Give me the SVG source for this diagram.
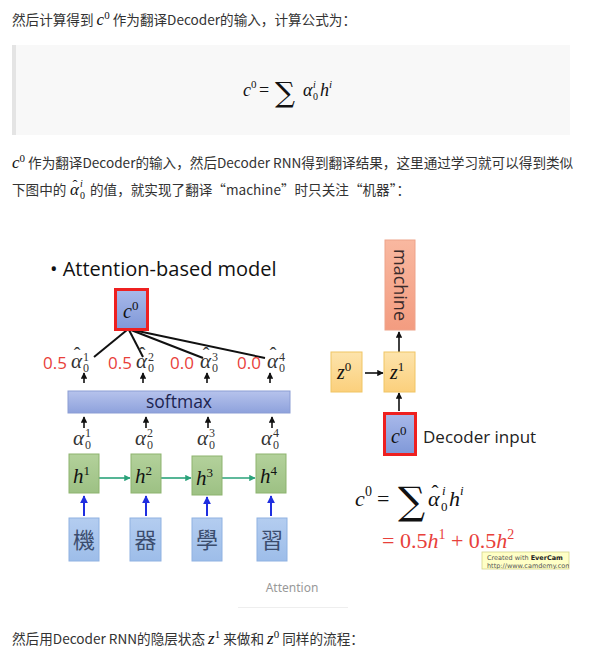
<svg xmlns="http://www.w3.org/2000/svg" width="594" height="668" viewBox="0 0 594 668">
<style>
.cn{font-family:"Noto Sans CJK SC","Noto Sans",sans-serif;font-size:13.6px;fill:#333}
.m{font-family:"Liberation Serif","DejaVu Serif",serif;font-style:italic;fill:#111}
.up{font-family:"Liberation Serif","DejaVu Serif",serif;font-style:normal}
.sl{font-family:"Open Sans","Noto Sans",sans-serif;fill:#111}
.red{fill:#e8403a}
.hat{font-family:"Liberation Serif","DejaVu Serif",serif;text-anchor:middle}
.arr{stroke:#111;stroke-width:1.6;fill:none;marker-end:url(#ah)}
.barr{stroke:#1f2ee0;stroke-width:2;fill:none;marker-end:url(#bh)}
.garr{stroke:#2aa27a;stroke-width:1.6;fill:none;marker-end:url(#gh)}
.hbox{fill:url(#gg);stroke:#8db36e;stroke-width:1}
.ibox{fill:url(#bg);stroke:#8fb2e2;stroke-width:1}
.zbox{fill:url(#yg);stroke:#f0c565;stroke-width:1}
.ch{font-family:"Noto Sans CJK TC","Noto Sans CJK SC",sans-serif;font-size:22px;fill:#3b4d6e;text-anchor:middle}
.a20{font-size:21px;fill:#333}
.s12{font-size:12px;fill:#333}
</style>
<defs>
<marker id="ah" viewBox="0 0 10 10" refX="9" refY="5" markerWidth="4" markerHeight="4" orient="auto"><path d="M0,0L10,5L0,10z" fill="#111"/></marker>
<marker id="bh" viewBox="0 0 10 10" refX="9" refY="5" markerWidth="4" markerHeight="4" orient="auto"><path d="M0,0L10,5L0,10z" fill="#1f2ee0"/></marker>
<marker id="gh" viewBox="0 0 10 10" refX="9" refY="5" markerWidth="4" markerHeight="4" orient="auto"><path d="M0,0L10,5L0,10z" fill="#2aa27a"/></marker>
<linearGradient id="cg" x1="0" y1="0" x2="0" y2="1"><stop offset="0" stop-color="#a9b9ea"/><stop offset="1" stop-color="#7f98d8"/></linearGradient>
<linearGradient id="sg" x1="0" y1="0" x2="0" y2="1"><stop offset="0" stop-color="#b6c3ec"/><stop offset="1" stop-color="#8ea2dc"/></linearGradient>
<linearGradient id="gg" x1="0" y1="0" x2="0" y2="1"><stop offset="0" stop-color="#b3d19b"/><stop offset="1" stop-color="#9dc184"/></linearGradient>
<linearGradient id="bg" x1="0" y1="0" x2="0" y2="1"><stop offset="0" stop-color="#b4cdf0"/><stop offset="1" stop-color="#9dbde9"/></linearGradient>
<linearGradient id="yg" x1="0" y1="0" x2="0" y2="1"><stop offset="0" stop-color="#fde4ac"/><stop offset="1" stop-color="#fbd07c"/></linearGradient>
<linearGradient id="og" x1="0" y1="0" x2="0" y2="1"><stop offset="0" stop-color="#f9b8a0"/><stop offset="1" stop-color="#f39c80"/></linearGradient>
<clipPath id="ec"><rect x="482" y="552" width="87" height="17"/></clipPath>
</defs>
<rect width="594" height="668" fill="#fff"/>

<g id="text-top">
<text class="cn" x="12" y="25">然后计算得到 <tspan class="m" font-size="17" fill="#111">c</tspan><tspan class="up" font-size="11" dy="-6" fill="#111">0</tspan><tspan dy="6"> 作为翻译Decoder的输入，计算公式为：</tspan></text>
</g>

<g id="quote">
<rect x="12" y="45" width="558" height="90" fill="#f8f8f8"/>
<rect x="12" y="45" width="4" height="90" fill="#e4e4e4"/>
<text class="m" x="243" y="96" font-size="18">c</text>
<text class="up" x="251" y="88" font-size="11" fill="#111">0</text>
<text class="up" x="259" y="96" font-size="18" fill="#111">=</text>
<text x="275" y="102" font-family="DejaVu Serif,serif" font-size="28" fill="#111">∑</text>
<text class="m" x="303" y="96" font-size="18">α</text>
<text class="up" x="313" y="100" font-size="10" fill="#111">0</text>
<text class="m" x="313" y="88" font-size="10">i</text>
<text class="m" x="320" y="96" font-size="18">h</text>
<text class="m" x="329" y="88" font-size="11">i</text>
</g>

<g id="text-mid">
<text class="cn" x="12" y="168"><tspan class="m" font-size="17" fill="#111">c</tspan><tspan class="up" font-size="11" dy="-6" fill="#111">0</tspan><tspan dy="6"> 作为翻译Decoder的输入，然后Decoder RNN得到翻译结果，这里通过学习就可以得到类似</tspan></text>
<text class="cn" x="12" y="195">下图中的</text>
<text class="m" x="70" y="195" font-size="17">α</text>
<text class="hat" x="75" y="190" font-size="15" fill="#111">ˆ</text>
<text class="up" x="80" y="199" font-size="10" fill="#111">0</text>
<text class="m" x="80" y="187" font-size="10">i</text>
<text class="cn" x="90" y="195">的值，就实现了翻译“machine”时只关注“机器”：</text>
</g>

<g id="title">
<text class="sl" x="50" y="276" font-size="20">• Attention-based model</text>
</g>

<g id="connectors">
<line x1="127" y1="330" x2="94" y2="357" stroke="#111" stroke-width="2"/>
<line x1="129" y1="330" x2="143" y2="357" stroke="#111" stroke-width="2"/>
<line x1="131" y1="330" x2="203" y2="358" stroke="#111" stroke-width="2"/>
<line x1="133" y1="330" x2="265" y2="358" stroke="#111" stroke-width="2"/>
<line class="arr" x1="84" y1="383" x2="84" y2="373"/>
<line class="arr" x1="143" y1="383" x2="143" y2="373"/>
<line class="arr" x1="207" y1="383" x2="207" y2="373"/>
<line class="arr" x1="270" y1="383" x2="270" y2="373"/>
<line class="arr" x1="84" y1="428" x2="84" y2="417"/>
<line class="arr" x1="146" y1="428" x2="146" y2="417"/>
<line class="arr" x1="208" y1="428" x2="208" y2="417"/>
<line class="arr" x1="272" y1="428" x2="272" y2="417"/>
<line class="garr" x1="99" y1="478" x2="130" y2="478"/>
<line class="garr" x1="161" y1="478" x2="191" y2="478"/>
<line class="garr" x1="222" y1="478" x2="255" y2="478"/>
<line class="barr" x1="84" y1="516" x2="84" y2="496"/>
<line class="barr" x1="146" y1="516" x2="146" y2="496"/>
<line class="barr" x1="207" y1="516" x2="207" y2="497"/>
<line class="barr" x1="271" y1="516" x2="271" y2="496"/>
<line class="arr" x1="399" y1="352" x2="399" y2="332"/>
<line class="arr" x1="365" y1="373" x2="383" y2="373"/>
<line class="arr" x1="399" y1="411" x2="399" y2="393"/>
</g>

<g id="c0-left">
<rect x="115.5" y="289.5" width="32" height="40" fill="url(#cg)" stroke="#ee2020" stroke-width="3"/>
<text class="m" x="123" y="318" font-size="20" fill="#1c2450">c<tspan class="up" font-size="13" dy="-8">0</tspan></text>
</g>

<g id="alpha-hat">
<text x="43" y="369" font-family="Open Sans,Noto Sans,sans-serif" font-size="17" class="red">0.5</text>
<text class="m a20" x="71" y="368">α</text><text class="hat" x="77" y="362" font-size="20" fill="#333">ˆ</text><text class="up s12" x="83" y="372">0</text><text class="up s12" x="83" y="361">1</text>
<text x="108" y="369" font-family="Open Sans,Noto Sans,sans-serif" font-size="17" class="red">0.5</text>
<text class="m a20" x="136" y="368">α</text><text class="hat" x="142" y="362" font-size="20" fill="#333">ˆ</text><text class="up s12" x="148" y="372">0</text><text class="up s12" x="148" y="361">2</text>
<text x="170" y="369" font-family="Open Sans,Noto Sans,sans-serif" font-size="17" class="red">0.0</text>
<text class="m a20" x="200" y="368">α</text><text class="hat" x="206" y="362" font-size="20" fill="#333">ˆ</text><text class="up s12" x="212" y="372">0</text><text class="up s12" x="212" y="361">3</text>
<text x="237" y="369" font-family="Open Sans,Noto Sans,sans-serif" font-size="17" class="red">0.0</text>
<text class="m a20" x="267" y="368">α</text><text class="hat" x="273" y="362" font-size="20" fill="#333">ˆ</text><text class="up s12" x="279" y="372">0</text><text class="up s12" x="279" y="361">4</text>
</g>

<g id="softmax">
<rect x="68" y="391" width="222" height="22" fill="url(#sg)" stroke="#8b9dd4" stroke-width="1"/>
<text x="179" y="408" font-family="Open Sans,Noto Sans,sans-serif" font-size="17.5" fill="#1c2450" text-anchor="middle">softmax</text>
</g>

<g id="alpha">
<text class="m a20" x="73" y="445">α</text><text class="up s12" x="85" y="449">0</text><text class="up s12" x="85" y="437">1</text>
<text class="m a20" x="135" y="445">α</text><text class="up s12" x="147" y="449">0</text><text class="up s12" x="147" y="437">2</text>
<text class="m a20" x="197" y="445">α</text><text class="up s12" x="209" y="449">0</text><text class="up s12" x="209" y="437">3</text>
<text class="m a20" x="261" y="445">α</text><text class="up s12" x="273" y="449">0</text><text class="up s12" x="273" y="437">4</text>
</g>

<g id="h1"><rect class="hbox" x="69" y="454" width="30" height="39"/><text class="m" x="73" y="483" font-size="21" fill="#1a1a1a">h<tspan class="up" font-size="13" dy="-8">1</tspan></text></g>
<g id="h2"><rect class="hbox" x="131" y="454" width="30" height="39"/><text class="m" x="135" y="483" font-size="21" fill="#1a1a1a">h<tspan class="up" font-size="13" dy="-8">2</tspan></text></g>
<g id="h3"><rect class="hbox" x="192" y="456" width="30" height="39"/><text class="m" x="196" y="485" font-size="21" fill="#1a1a1a">h<tspan class="up" font-size="13" dy="-8">3</tspan></text></g>
<g id="h4"><rect class="hbox" x="256" y="454" width="30" height="39"/><text class="m" x="260" y="483" font-size="21" fill="#1a1a1a">h<tspan class="up" font-size="13" dy="-8">4</tspan></text></g>

<g id="in1"><rect class="ibox" x="69" y="518" width="30" height="43"/><text class="ch" x="84" y="548">機</text></g>
<g id="in2"><rect class="ibox" x="130" y="518" width="31" height="43"/><text class="ch" x="145.5" y="548">器</text></g>
<g id="in3"><rect class="ibox" x="192" y="518" width="30" height="43"/><text class="ch" x="207" y="548">學</text></g>
<g id="in4"><rect class="ibox" x="257" y="518" width="30" height="43"/><text class="ch" x="272" y="548">習</text></g>

<g id="machine">
<rect x="385" y="240" width="30" height="90" fill="url(#og)" stroke="#eea38a" stroke-width="1"/>
<text x="400" y="285" transform="rotate(90 400 285)" dy="6" font-family="Open Sans,Noto Sans,sans-serif" font-size="18" fill="#3a2a2a" text-anchor="middle">machine</text>
</g>
<g id="z0"><rect class="zbox" x="331" y="352" width="31" height="40"/><text class="m" x="337" y="379" font-size="20" fill="#333">z<tspan class="up" font-size="13" dy="-8">0</tspan></text></g>
<g id="z1"><rect class="zbox" x="384" y="352" width="31" height="40"/><text class="m" x="390" y="379" font-size="20" fill="#333">z<tspan class="up" font-size="13" dy="-8">1</tspan></text></g>
<g id="c0-right">
<rect x="384.5" y="413.5" width="31" height="41" fill="url(#cg)" stroke="#ee2020" stroke-width="3"/>
<text class="m" x="391" y="443" font-size="20" fill="#1c2450">c<tspan class="up" font-size="13" dy="-8">0</tspan></text>
<text x="423" y="443" font-family="Open Sans,Noto Sans,sans-serif" font-size="17" fill="#222">Decoder input</text>
</g>

<g id="formula">
<text class="m" x="355" y="506" font-size="22">c</text>
<text class="up" x="365" y="496" font-size="14" fill="#111">0</text>
<text class="up" x="377" y="506" font-size="22" fill="#111">=</text>
<text x="398" y="514" font-family="DejaVu Serif,serif" font-size="38" fill="#111">∑</text>
<text class="m" x="428" y="506" font-size="22">α</text>
<text class="hat" x="435" y="500" font-size="21" fill="#111">ˆ</text>
<text class="up" x="441" y="511" font-size="13" fill="#111">0</text>
<text class="m" x="442" y="495" font-size="13">i</text>
<text class="m" x="449" y="506" font-size="22">h</text>
<text class="m" x="460" y="495" font-size="13">i</text>
<text x="382" y="548" font-family="Liberation Serif,serif" font-size="22" class="red">= 0.5<tspan font-style="italic">h</tspan><tspan font-size="14" dy="-9">1</tspan><tspan dy="9"> + 0.5</tspan><tspan font-style="italic">h</tspan><tspan font-size="14" dy="-9">2</tspan></text>
</g>

<g id="evercam">
<rect x="482" y="552" width="87" height="17" fill="#ffffc6" stroke="#d4d48a" stroke-width="0.8"/>
<g clip-path="url(#ec)">
<text x="487" y="560" font-family="DejaVu Sans,sans-serif" font-size="6.5" fill="#555">Created with <tspan font-weight="bold" fill="#222">EverCam</tspan></text>
<text x="487" y="568" font-family="DejaVu Sans,sans-serif" font-size="6.5" fill="#555">http://www.camdemy.com</text>
</g>
</g>

<g id="caption">
<text x="292" y="592" font-family="Noto Sans,sans-serif" font-size="12" fill="#999" text-anchor="middle">Attention</text>
<line x1="238" y1="607.5" x2="348" y2="607.5" stroke="#eee" stroke-width="1"/>
</g>

<g id="text-bottom">
<text class="cn" x="12" y="644">然后用Decoder RNN的隐层状态 <tspan class="m" font-size="17" fill="#111">z</tspan><tspan class="up" font-size="11" dy="-6" fill="#111">1</tspan><tspan dy="6"> 来做和 </tspan><tspan class="m" font-size="17" fill="#111">z</tspan><tspan class="up" font-size="11" dy="-6" fill="#111">0</tspan><tspan dy="6"> 同样的流程：</tspan></text>
</g>
</svg>
